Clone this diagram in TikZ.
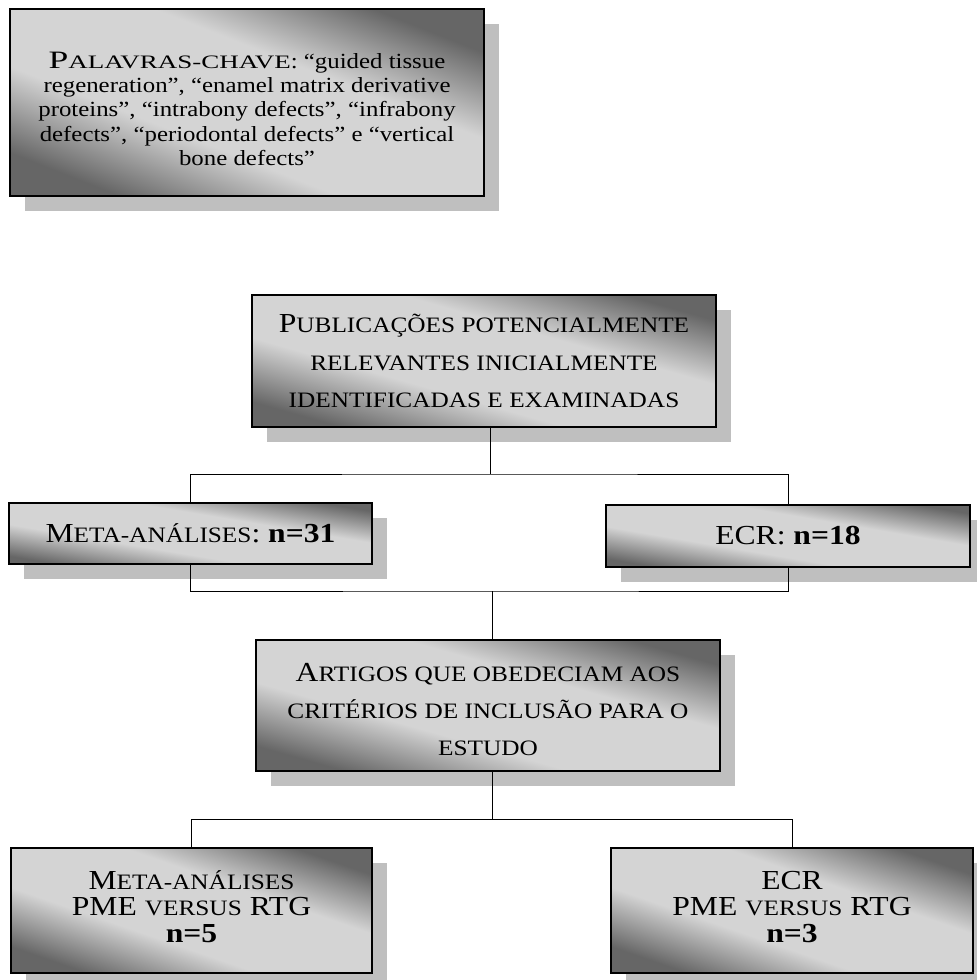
\documentclass[tikz,border=0pt]{standalone}
\usepackage{fontspec}
\setmainfont{Liberation Serif}[FakeStretch=1.15]
\newfontfamily\widefont{Liberation Serif}[FakeStretch=1.42]
\usetikzlibrary{shadows}
\definecolor{boxdark}{gray}{0.40}
\definecolor{boxlight}{gray}{0.83}
\definecolor{shadowgray}{gray}{0.75}
\pgfdeclareverticalshading{fluxshade}{100bp}{color(0bp)=(boxdark); color(25bp)=(boxdark); color(40bp)=(boxlight); color(60bp)=(boxlight); color(75bp)=(boxdark); color(100bp)=(boxdark)}
% fake small caps, as the word processor sets them
\newcommand{\smc}[1]{{\fontsize{22}{22}\selectfont #1}}
\newcommand{\widecap}[2]{{\widefont\fontsize{25}{25}\selectfont #1\fontsize{19}{19}\selectfont #2}}
\tikzset{
	fluxbox/.style={draw=black, line width=1.6pt, shade, shading=fluxshade, align=center, inner sep=0pt, font=\fontsize{27.5}{26.5}\selectfont, drop shadow={shadow xshift=15pt, shadow yshift=-15pt, fill=shadowgray, opacity=1}},
	link/.style={line width=1pt}
}
\begin{document}
\begin{tikzpicture}[x=1pt, y=-1pt, line join=miter]
				\useasboundingbox (0,0) rectangle (977,980);
				% boxes (shading angle follows the box diagonal)
				\node[fluxbox, minimum width=474pt, minimum height=187pt, shading angle=-21.5, font=\fontsize{21.6}{24.25}\selectfont] (kw) at (247,102.5)
				{\rule{0pt}{29pt}\widecap{P}{ALAVRAS-CHAVE}: “guided tissue\\ regeneration”, “enamel matrix derivative\\ proteins”, “intrabony defects”, “infrabony\\ defects”, “periodontal defects” e “vertical\\ bone defects”};
				\node[fluxbox, minimum width=464pt, minimum height=132pt, shading angle=-15.9, font=\fontsize{27.5}{37.5}\selectfont] (pub) at (484,361)
				{P\smc{UBLICAÇÕES POTENCIALMENTE}\\ \smc{RELEVANTES INICIALMENTE}\\ \smc{IDENTIFICADAS E EXAMINADAS}};
				\node[fluxbox, minimum width=363pt, minimum height=61pt, shading angle=-9.5] (metaA) at (190.5,533.5)
				{M\smc{ETA-ANÁLISES}: \textbf{n=31}};
				\node[fluxbox, minimum width=364pt, minimum height=62pt, shading angle=-9.7] (ecrA) at (788,536)
				{ECR: \textbf{n=18}};
				\node[fluxbox, minimum width=464pt, minimum height=131pt, shading angle=-15.8, font=\fontsize{27.5}{37}\selectfont] (art) at (488,705.5)
				{\rule{0pt}{27pt}A\smc{RTIGOS QUE OBEDECIAM AOS}\\ \smc{CRITÉRIOS DE INCLUSÃO PARA O}\\ \smc{ESTUDO}};
				\node[fluxbox, minimum width=361pt, minimum height=125pt, shading angle=-19.1] (metaB) at (191.5,910.5)
				{M\smc{ETA-ANÁLISES}\\ PME \smc{VERSUS} RTG\\ \textbf{n=5}\rule[-8pt]{0pt}{8pt}};
				\node[fluxbox, minimum width=362pt, minimum height=125pt, shading angle=-19.1] (ecrB) at (792,910.5)
				{ECR\\ PME \smc{VERSUS} RTG\\ \textbf{n=3}\rule[-8pt]{0pt}{8pt}};
				% junctions
				\coordinate (j1) at (490,474);
				\coordinate (j2) at (492,591);
				\coordinate (j3) at (492,819);
				% connectors
				\draw[link] (pub.south -| j1) -- (j1);
				\draw[link] (metaA.north) |- (j1) -| (ecrA.north);
				\draw[link] (metaA.south) |- (j2) -| (ecrA.south);
				\draw[link] (j2) -- (art.north -| j2);
				\draw[link] (art.south -| j3) -- (j3);
				\draw[link] (metaB.north) |- (j3) -| (ecrB.north);
			\end{tikzpicture}
\end{document}
